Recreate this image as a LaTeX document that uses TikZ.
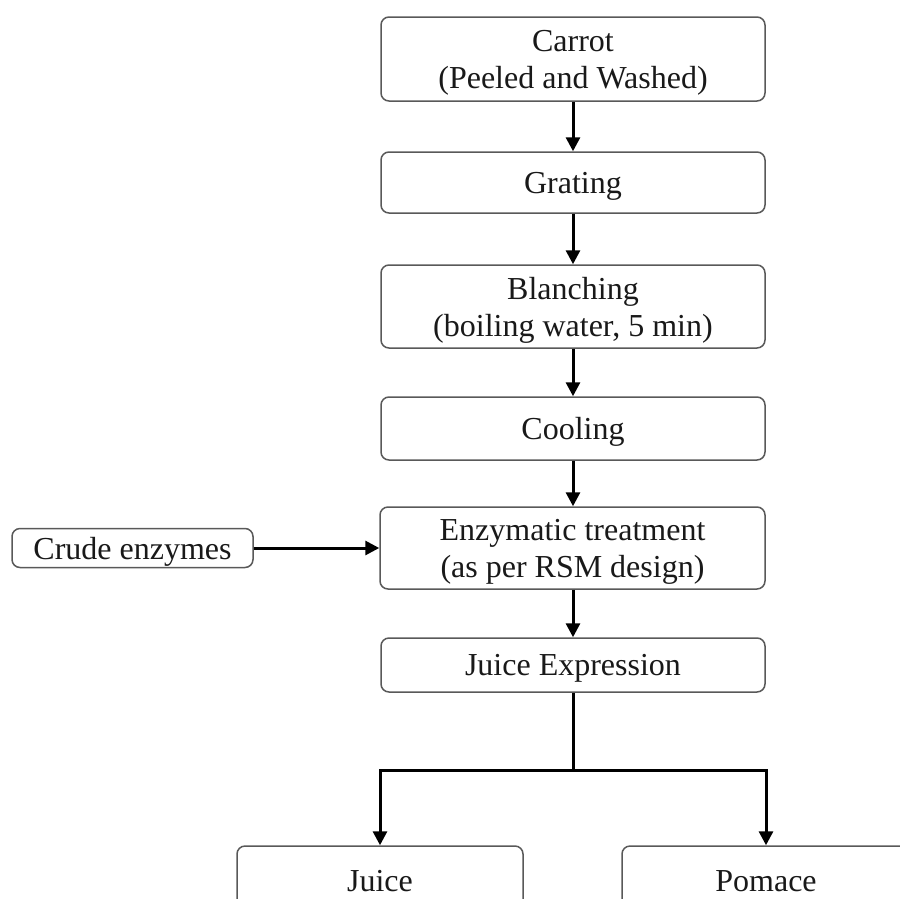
\documentclass[tikz,border=0pt]{standalone}
\usepackage{fontspec}
\setmainfont{Liberation Serif}
\usetikzlibrary{arrows.meta}
\begin{document}
\begin{tikzpicture}[x=1pt,y=-1pt,
  procbox/.style={draw=black!65, line width=1.5pt, rounded corners=8pt, fill=white,
    align=center, inner sep=0pt, font=\fontsize{32}{37}\selectfont, text=black!90},
  flow/.style={line width=3pt, -{Triangle[length=14pt,width=14pt]}},
  plainline/.style={line width=3pt}]
\useasboundingbox (0,0) rectangle (900,898);
\clip (0,0) rectangle (900,898);
\node[procbox, minimum width=384pt, minimum height=84pt, text depth=0pt] (carrot) at (573,59) {Carrot\\(Peeled and Washed)};
\node[procbox, minimum width=384pt, minimum height=61pt, text depth=0pt] (grating) at (573,182.5) {Grating};
\node[procbox, minimum width=384pt, minimum height=83pt, text depth=-2pt] (blanch) at (573,306.5) {Blanching\\(boiling water, 5 min)};
\node[procbox, minimum width=384pt, minimum height=63pt, text depth=0pt] (cool) at (573,428.5) {Cooling};
\node[procbox, minimum width=385pt, minimum height=82pt, text depth=-2pt] (enz) at (572.5,548) {Enzymatic treatment\\(as per RSM design)};
\node[procbox, minimum width=241pt, minimum height=39pt, text depth=0pt] (crude) at (132.5,548) {Crude enzymes};
\node[procbox, minimum width=384pt, minimum height=54pt, text depth=-3pt] (jexp) at (573,665) {Juice Expression};
\node[procbox, minimum width=286pt, minimum height=70pt] (juice) at (380,881) {Juice};
\node[procbox, minimum width=288pt, minimum height=70pt] (pomace) at (766,881) {Pomace};
\coordinate (split) at (573,770);
\draw[flow] (carrot.south) -- (grating.north);
\draw[flow] (grating.south) -- (blanch.north);
\draw[flow] (blanch.south) -- (cool.north);
\draw[flow] (cool.south) -- (enz.north -| cool.south);
\draw[flow] (crude.east) -- (enz.west);
\draw[flow] (enz.south -| jexp.north) -- (jexp.north);
\draw[plainline] (jexp.south) -- (split);
\draw[flow] (split) -| (juice.north);
\draw[flow] (split) -| (pomace.north);
\end{tikzpicture}
\end{document}
